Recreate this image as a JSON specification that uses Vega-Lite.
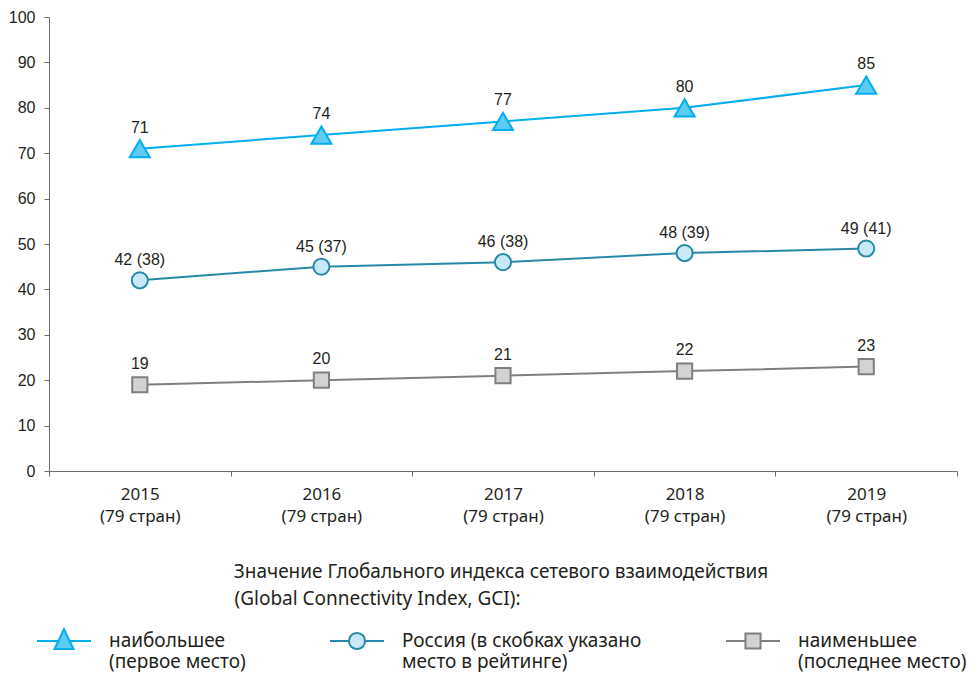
{
  "$schema": "https://vega.github.io/schema/vega-lite/v6.json",
  "width": 908,
  "height": 454,
  "padding": {"left": 8, "top": 9, "right": 0, "bottom": 0},
  "autosize": {"type": "pad"},
  "config": {"view": {"stroke": null}, "font": "Noto Sans"},
  "data": {
    "values": [
      {"period": "2015|(79 стран)", "key": "max", "series": "наибольшее|(первое место)", "value": 71, "label": "71"},
      {"period": "2016|(79 стран)", "key": "max", "series": "наибольшее|(первое место)", "value": 74, "label": "74"},
      {"period": "2017|(79 стран)", "key": "max", "series": "наибольшее|(первое место)", "value": 77, "label": "77"},
      {"period": "2018|(79 стран)", "key": "max", "series": "наибольшее|(первое место)", "value": 80, "label": "80"},
      {"period": "2019|(79 стран)", "key": "max", "series": "наибольшее|(первое место)", "value": 85, "label": "85"},
      {"period": "2015|(79 стран)", "key": "rus", "series": "Россия (в скобках указано|место в рейтинге)", "value": 42, "label": "42 (38)"},
      {"period": "2016|(79 стран)", "key": "rus", "series": "Россия (в скобках указано|место в рейтинге)", "value": 45, "label": "45 (37)"},
      {"period": "2017|(79 стран)", "key": "rus", "series": "Россия (в скобках указано|место в рейтинге)", "value": 46, "label": "46 (38)"},
      {"period": "2018|(79 стран)", "key": "rus", "series": "Россия (в скобках указано|место в рейтинге)", "value": 48, "label": "48 (39)"},
      {"period": "2019|(79 стран)", "key": "rus", "series": "Россия (в скобках указано|место в рейтинге)", "value": 49, "label": "49 (41)"},
      {"period": "2015|(79 стран)", "key": "min", "series": "наименьшее|(последнее место)", "value": 19, "label": "19"},
      {"period": "2016|(79 стран)", "key": "min", "series": "наименьшее|(последнее место)", "value": 20, "label": "20"},
      {"period": "2017|(79 стран)", "key": "min", "series": "наименьшее|(последнее место)", "value": 21, "label": "21"},
      {"period": "2018|(79 стран)", "key": "min", "series": "наименьшее|(последнее место)", "value": 22, "label": "22"},
      {"period": "2019|(79 стран)", "key": "min", "series": "наименьшее|(последнее место)", "value": 23, "label": "23"}
    ]
  },
  "encoding": {
    "x": {
      "field": "period", "type": "ordinal", "sort": null,
      "scale": {"type": "band", "paddingInner": 0, "paddingOuter": 0},
      "axis": {
        "title": null, "labelExpr": "datum.value ? split(datum.value, '|') : ''", "labelAngle": 0,
        "tickBand": "extent", "domainColor": "#6d6e71", "tickColor": "#6d6e71",
        "tickSize": 5, "labelFont": "Noto Sans", "labelFontSize": 17, "labelColor": "#231f20",
        "labelLineHeight": 22, "labelPadding": 10, "labelBaseline": "top"
      }
    },
    "y": {
      "field": "value", "type": "quantitative",
      "scale": {"domain": [0, 100], "nice": false},
      "axis": {
        "title": null, "values": [0, 10, 20, 30, 40, 50, 60, 70, 80, 90, 100], "grid": false,
        "tickSize": 5, "labelPadding": 9, "labelFont": "Liberation Sans", "labelFontSize": 16,
        "labelColor": "#231f20", "domainColor": "#6d6e71", "tickColor": "#6d6e71"
      }
    }
  },
  "layer": [
    {
      "mark": {"type": "line", "strokeWidth": 2},
      "encoding": {
        "color": {
          "field": "key", "type": "nominal",
          "scale": {"domain": ["max", "rus", "min"], "range": ["#00aeef", "#2789a8", "#7f7f7f"]},
          "legend": null
        }
      }
    },
    {
      "transform": [{"filter": "datum.key === 'max'"}],
      "mark": {"type": "point", "shape": "triangle-up", "size": 400, "filled": true, "fill": "#5ecbf1", "stroke": "#00aeef", "strokeWidth": 2, "opacity": 1}
    },
    {
      "transform": [{"filter": "datum.key === 'rus'"}],
      "mark": {"type": "point", "shape": "circle", "size": 260, "filled": true, "fill": "#c7e9f8", "stroke": "#2789a8", "strokeWidth": 2, "opacity": 1}
    },
    {
      "transform": [{"filter": "datum.key === 'min'"}],
      "mark": {"type": "point", "shape": "square", "size": 230, "filled": true, "fill": "#d2d2d2", "stroke": "#7f7f7f", "strokeWidth": 2, "opacity": 1}
    },
    {
      "mark": {"type": "point", "filled": true, "opacity": 0},
      "encoding": {
        "stroke": {
          "field": "series", "type": "nominal",
          "scale": {
            "domain": ["наибольшее|(первое место)", "Россия (в скобках указано|место в рейтинге)", "наименьшее|(последнее место)"],
            "range": ["#00aeef", "#2789a8", "#7f7f7f"]
          }
        },
        "fill": {
          "field": "series", "type": "nominal",
          "scale": {
            "domain": ["наибольшее|(первое место)", "Россия (в скобках указано|место в рейтинге)", "наименьшее|(последнее место)"],
            "range": ["#5ecbf1", "#c7e9f8", "#d2d2d2"]
          }
        },
        "shape": {
          "field": "series", "type": "nominal",
          "scale": {
            "domain": ["наибольшее|(первое место)", "Россия (в скобках указано|место в рейтинге)", "наименьшее|(последнее место)"],
            "range": [
              "M-1,0H-0.21M0.21,0H1M0,-0.44L0.35,0.3L-0.35,0.3Z",
              "M-1,0H-0.3M0.3,0H1M-0.3,0A0.3,0.3,0,1,0,0.3,0A0.3,0.3,0,1,0,-0.3,0Z",
              "M-1,0H-0.28M0.28,0H1M-0.28,-0.28H0.28V0.28H-0.28Z"
            ]
          },
          "legend": {
            "orient": "none", "legendX": -13, "legendY": 546, "direction": "horizontal", "columns": 3,
            "title": ["Значение Глобального индекса сетевого взаимодействия", "(Global Connectivity Index, GCI):\u00a0\u00a0\u00a0\u00a0\u00a0\u00a0\u00a0\u00a0\u00a0\u00a0\u00a0\u00a0\u00a0\u00a0\u00a0\u00a0\u00a0\u00a0\u00a0\u00a0\u00a0\u00a0\u00a0\u00a0\u00a0\u00a0\u00a0\u00a0\u00a0\u00a0\u00a0\u00a0\u00a0\u00a0\u00a0\u00a0\u00a0\u00a0\u00a0\u00a0\u00a0\u00a0\u00a0\u00a0\u00a0\u00a0\u00a0\u00a0\u00a0\u00a0\u2060"],
            "titleFont": "Noto Sans", "titleFontSize": 19, "titleFontWeight": "normal", "titleColor": "#231f20",
            "titleAnchor": "middle", "titleAlign": "center", "titleLineHeight": 27, "titleLimit": 900, "titlePadding": 4,
            "labelFont": "Noto Sans", "labelFontSize": 19, "labelColor": "#231f20", "labelLimit": 400,
            "labelExpr": "split(datum.label, '|')", "labelBaseline": "middle", "labelOffset": 17,
            "symbolSize": 2916, "symbolStrokeWidth": 2, "symbolOpacity": 1, "columnPadding": 80,
            "encode": {"labels": {"update": {"lineHeight": {"value": 24}}}}
          }
        }
      }
    },
    {
      "transform": [{"filter": "datum.key === 'max'"}],
      "mark": {"type": "text", "font": "Liberation Sans", "fontSize": 16, "color": "#231f20", "baseline": "middle", "dy": -21},
      "encoding": {"text": {"field": "label"}}
    },
    {
      "transform": [{"filter": "datum.key === 'rus'"}],
      "mark": {"type": "text", "font": "Liberation Sans", "fontSize": 16, "color": "#231f20", "baseline": "middle", "dy": -20},
      "encoding": {"text": {"field": "label"}}
    },
    {
      "transform": [{"filter": "datum.key === 'min'"}],
      "mark": {"type": "text", "font": "Liberation Sans", "fontSize": 16, "color": "#231f20", "baseline": "middle", "dy": -21},
      "encoding": {"text": {"field": "label"}}
    }
  ]
}
